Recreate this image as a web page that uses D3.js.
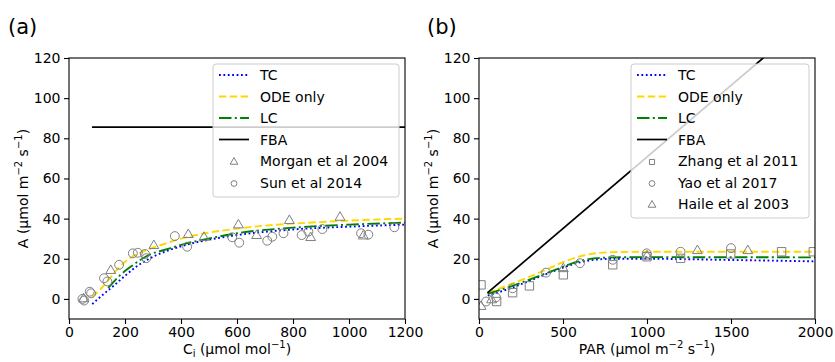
<!DOCTYPE html>
<html>
<head>
<meta charset="utf-8">
<script src="https://cdn.jsdelivr.net/npm/d3@7"></script>
<style>
  body { margin: 0; background: #fff; }
  svg { font-family: "DejaVu Sans", sans-serif; }
</style>
</head>
<body>
<svg id="chart" width="835" height="362"></svg>
<script>
// ---- panel (a): A vs Ci ----
const ciTC  = [[83,-2.6],[120,2],[155,6],[200,11.5],[240,16],[300,21],[360,24.4],[420,27],[500,29.5],[600,31.8],[800,34.6],[1000,36],[1200,37]];
const ciODE = [[83,1],[120,6],[150,11],[180,16],[220,20.5],[260,23.3],[300,25.5],[350,27.8],[400,30],[480,32.5],[600,35],[700,36.5],[800,37.5],[1000,39],[1200,40]];
const ciLC  = [[140,5.5],[180,11.5],[220,16],[280,21.5],[360,25.2],[420,27.7],[480,29.5],[600,32.7],[800,35.5],[1000,37],[1200,38]];
const ciFBA = [[82,85.6],[1200,85.6]];
const morgan2004 = [[52,0],[149,14.1],[303,26.5],[426,32],[482,30.6],[605,36.8],[670,31.5],[787,39],[863,30.5],[968,40.6],[1051,31.3]];
const sun2014 = [[48,0],[54,-0.8],[74,3.6],[79,2.8],[125,10.3],[137,8.7],[179,17],[228,22.7],[246,23],[271,22.4],[276,20.3],[378,31.3],[422,26],[583,30.7],[608,28],[708,29],[726,31],[766,32.7],[831,31.8],[855,33.5],[905,34.8],[1043,32.7],[1069,32],[1162,35.7]];

// ---- panel (b): A vs PAR ----
const parTC  = [[52,1.6],[200,5.7],[300,9],[400,12.4],[500,15.6],[600,18.2],[700,19.6],[800,20],[1000,20],[1500,19.4],[2000,18.7]];
const parODE = [[52,3.1],[100,4.5],[200,7.7],[300,11],[400,14.6],[500,18.3],[600,21.2],[700,22.8],[800,23.3],[1000,23.5],[2000,23.5]];
const parLC  = [[52,2.5],[200,6.5],[300,9.6],[400,12.8],[500,16],[600,18.9],[700,20.3],[800,20.7],[1000,20.8],[2000,20.7]];
const parFBA = [[50,3],[2000,142]];
const zhang2011 = [[12,7],[105,-1.3],[200,3.1],[300,6.5],[502,12],[796,17],[1000,21],[1200,20.2],[1498,22.4],[1801,23.5],[1990,23.5]];
const yao2017 = [[42,-1.3],[101,0.8],[200,5.3],[399,13.1],[601,17.8],[796,19.5],[998,22.7],[1200,23.5],[1500,25.3]];
const haile2003 = [[12,-3.8],[75,-0.5],[502,15],[1000,21.3],[1300,24],[1600,24]];

const yTicks = [0,20,40,60,80,100,120];
const ciTicks = [0,200,400,600,800,1000,1200];
const parTicks = [0,500,1000,1500,2000];

const svg = d3.select("#chart");
const plotTop = 58, plotBottom = 319;
const fs = 14;

const styles = {
  TC:  {stroke: "#0000ff", dash: "1.8,2.6", width: 1.9},
  ODE: {stroke: "#ffd700", dash: "7.4,3.4", width: 1.9},
  LC:  {stroke: "#008000", dash: "12.5,3.3,2,3.3", width: 1.9},
  FBA: {stroke: "#000000", dash: null, width: 1.7}
};

function marker(sel, shape, size) {
  return sel.append("path")
    .attr("d", d3.symbol().type(shape).size(size))
    .attr("fill", "none").attr("stroke", "#808080").attr("stroke-width", 1);
}

function drawPanel(p) {
  const x = d3.scaleLinear().domain(p.xDomain).range([p.left, p.right]);
  const y = d3.scaleLinear().domain([-10, 120]).range([plotBottom, plotTop]);
  const g = svg.append("g");

  g.append("clipPath").attr("id", "clip" + p.id)
    .append("rect").attr("x", p.left).attr("y", plotTop)
    .attr("width", p.right - p.left).attr("height", plotBottom - plotTop);

  const line = d3.line().x(d => x(d[0])).y(d => y(d[1])).curve(d3.curveMonotoneX);
  const plot = g.append("g").attr("clip-path", `url(#clip${p.id})`);
  p.lines.forEach(l => {
    const s = styles[l.key];
    plot.append("path").datum(l.data)
      .attr("d", line).attr("fill", "none")
      .attr("stroke", s.stroke).attr("stroke-width", s.width)
      .attr("stroke-dasharray", s.dash);
  });
  p.points.forEach(ps => {
    ps.data.forEach(d => {
      marker(plot, ps.shape, ps.size)
        .attr("transform", `translate(${x(d[0])},${y(d[1])})`);
    });
  });

  // axes
  const xa = g.append("g").attr("transform", `translate(0,${plotBottom})`)
    .call(d3.axisBottom(x).tickValues(p.xTicks).tickFormat(d3.format("d"))
      .tickSize(5).tickPadding(3).tickSizeOuter(0));
  const ya = g.append("g").attr("transform", `translate(${p.left},0)`)
    .call(d3.axisLeft(y).tickValues(yTicks).tickFormat(d3.format("d"))
      .tickSize(5).tickPadding(3.5).tickSizeOuter(0));
  [xa, ya].forEach(a => {
    a.select(".domain").remove();
    a.selectAll("text").attr("font-size", fs).attr("font-family", "DejaVu Sans").attr("fill", "#000");
    a.selectAll("line").attr("stroke", "#000").attr("stroke-width", 1.1);
  });
  g.append("rect").attr("x", p.left).attr("y", plotTop)
    .attr("width", p.right - p.left).attr("height", plotBottom - plotTop)
    .attr("fill", "none").attr("stroke", "#000").attr("stroke-width", 1.1);

  // labels
  g.append("text").attr("x", p.labelX).attr("y", 34)
    .attr("font-size", 21).text(p.tag);

  const yl = g.append("text")
    .attr("transform", `translate(${p.left - 41},${(plotTop + plotBottom) / 2}) rotate(-90)`)
    .attr("text-anchor", "middle").attr("font-size", fs);
  yl.append("tspan").text("A (\u00b5mol m");
  yl.append("tspan").attr("font-size", 10).attr("dy", -6).text("\u22122");
  yl.append("tspan").attr("dy", 6).text(" s");
  yl.append("tspan").attr("font-size", 10).attr("dy", -6).text("\u22121");
  yl.append("tspan").attr("dy", 6).text(")");

  const xl = g.append("text").attr("x", (p.left + p.right) / 2).attr("y", 354)
    .attr("text-anchor", "middle").attr("font-size", fs);
  p.xLabel(xl);

  // legend
  const lg = g.append("g");
  lg.append("rect").attr("x", p.leg.x).attr("y", p.leg.y)
    .attr("width", p.leg.w).attr("height", p.leg.h).attr("rx", 3)
    .attr("fill", "#fff").attr("fill-opacity", 0.8)
    .attr("stroke", "#cccccc").attr("stroke-width", 1);
  const rowH = 21.5;
  const entries = p.lines.map(l => ({type: "line", key: l.key, label: l.label}))
    .concat(p.points.map(ps => ({type: "pt", shape: ps.shape, label: ps.label})));
  entries.forEach((e, i) => {
    const cy = p.leg.y + 11 + i * rowH;
    const hx = p.leg.x + 6;
    if (e.type === "line") {
      const s = styles[e.key];
      lg.append("line").attr("x1", hx).attr("x2", hx + 30).attr("y1", cy).attr("y2", cy)
        .attr("stroke", s.stroke).attr("stroke-width", s.width).attr("stroke-dasharray", s.dash);
    } else {
      marker(lg, e.shape, 26).attr("transform", `translate(${hx + 15},${cy + 1})`);
    }
    lg.append("text").attr("x", hx + 41).attr("y", cy + 5)
      .attr("font-size", fs).text(e.label);
  });
}

drawPanel({
  id: "a", tag: "(a)", labelX: 8, left: 69, right: 405,
  xDomain: [0, 1200], xTicks: ciTicks,
  lines: [
    {key: "TC", label: "TC", data: ciTC},
    {key: "ODE", label: "ODE only", data: ciODE},
    {key: "LC", label: "LC", data: ciLC},
    {key: "FBA", label: "FBA", data: ciFBA}
  ],
  points: [
    {shape: d3.symbolTriangle, size: 42, label: "Morgan et al 2004", data: morgan2004},
    {shape: d3.symbolCircle, size: 62, label: "Sun et al 2014", data: sun2014}
  ],
  leg: {x: 213, y: 64, w: 186, h: 133},
  xLabel: t => {
    t.append("tspan").text("C");
    t.append("tspan").attr("font-size", 10).attr("dy", 3).text("i");
    t.append("tspan").attr("dy", -3).text(" (\u00b5mol mol");
    t.append("tspan").attr("font-size", 10).attr("dy", -6).text("\u22121");
    t.append("tspan").attr("dy", 6).text(")");
  }
});

drawPanel({
  id: "b", tag: "(b)", labelX: 427, left: 479, right: 815,
  xDomain: [0, 2000], xTicks: parTicks,
  lines: [
    {key: "TC", label: "TC", data: parTC},
    {key: "ODE", label: "ODE only", data: parODE},
    {key: "LC", label: "LC", data: parLC},
    {key: "FBA", label: "FBA", data: parFBA}
  ],
  points: [
    {shape: d3.symbolSquare, size: 70, label: "Zhang et al 2011", data: zhang2011},
    {shape: d3.symbolCircle, size: 62, label: "Yao et al 2017", data: yao2017},
    {shape: d3.symbolTriangle, size: 42, label: "Haile et al 2003", data: haile2003}
  ],
  leg: {x: 631, y: 64, w: 178, h: 154},
  xLabel: t => {
    t.append("tspan").text("PAR (\u00b5mol m");
    t.append("tspan").attr("font-size", 10).attr("dy", -6).text("\u22122");
    t.append("tspan").attr("dy", 6).text(" s");
    t.append("tspan").attr("font-size", 10).attr("dy", -6).text("\u22121");
    t.append("tspan").attr("dy", 6).text(")");
  }
});
</script>
</body>
</html>
